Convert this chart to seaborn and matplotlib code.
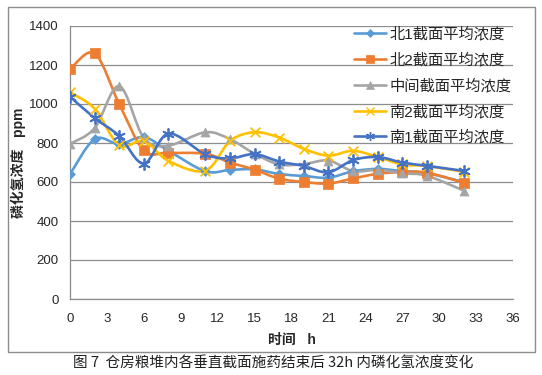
import numpy as np
import pandas as pd
import matplotlib
matplotlib.use("Agg")
import matplotlib.pyplot as plt
from matplotlib.path import Path
from matplotlib.patches import PathPatch, Rectangle
from matplotlib.lines import Line2D
import seaborn as sns

# data
hours = [0, 2, 4, 6, 8, 11, 13, 15, 17, 19, 21, 23, 25, 27, 29, 32]
north1 = [640, 820, 795, 830, 760, 655, 662, 665, 641, 631, 622, 655, 667, 656, 645, 600]
north2 = [1178, 1260, 1000, 762, 750, 745, 700, 663, 617, 600, 592, 618, 642, 651, 648, 596]
middle = [795, 876, 1092, 826, 787, 855, 820, 745, 690, 692, 710, 656, 662, 645, 632, 556]
south2 = [1060, 976, 788, 810, 708, 658, 810, 855, 828, 770, 735, 760, 728, 690, 682, 652]
south1 = [1038, 928, 836, 694, 848, 742, 721, 743, 705, 682, 650, 712, 728, 700, 683, 657]

names = ["北1截面平均浓度", "北2截面平均浓度", "中间截面平均浓度", "南2截面平均浓度", "南1截面平均浓度"]
colors = ["#5B9BD5", "#ED7D31", "#A5A5A5", "#FFC000", "#4472C4"]
markers = ["D", "s", "^", "x", (6, 2, 0)]
msizes = [5, 6.5, 6.5, 7, 8]

xticks = list(range(0, 37, 3))
yticks = list(range(0, 1401, 200))

df = pd.DataFrame({"hours": hours, names[0]: north1, names[1]: north2,
                   names[2]: middle, names[3]: south2, names[4]: south1})

sns.set_style("white")
plt.rcParams["font.family"] = ["Liberation Sans", "Noto Sans CJK SC", "DejaVu Sans"]


def smooth_path(xs, ys):
    # excel-like smoothed line: cubic bezier with catmull-rom control points
    pts = np.column_stack([xs, ys]).astype(float)
    n = len(pts)
    verts = [pts[0]]
    codes = [Path.MOVETO]
    for i in range(n - 1):
        p0 = pts[i - 1] if i > 0 else pts[i]
        p1 = pts[i]
        p2 = pts[i + 1]
        p3 = pts[i + 2] if i + 2 < n else pts[i + 1]
        c1 = p1 + (p2 - p0) / 6.0
        c2 = p2 - (p3 - p1) / 6.0
        verts += [c1, c2, p2]
        codes += [Path.CURVE4] * 3
    return Path(verts, codes)


fig = plt.figure(figsize=(5.42, 3.75), dpi=100)
ax = fig.add_axes([70 / 542, 1 - 299 / 375, 443 / 542, 273 / 375])

# chart border
fig.patches.append(Rectangle((8 / 542, 1 - 352 / 375), 527 / 542, 345 / 375,
                             transform=fig.transFigure, fill=False,
                             edgecolor="#8c8c8c", linewidth=1.0))

handles = []
for name, c, m, ms in zip(names, colors, markers, msizes):
    ax.add_patch(PathPatch(smooth_path(df["hours"], df[name]), fill=False,
                           edgecolor=c, linewidth=1.9, zorder=2,
                           capstyle="round", joinstyle="round"))
    filled = m not in ("x",) and not isinstance(m, tuple)
    if filled:
        sns.scatterplot(data=df, x="hours", y=name, marker=m, color=c,
                        edgecolor=c, s=ms ** 2, linewidth=0.5, ax=ax, zorder=3)
    else:
        sns.scatterplot(data=df, x="hours", y=name, marker=m, color=c,
                        s=ms ** 2, linewidth=1.3, ax=ax, zorder=3)
    handles.append(Line2D([], [], color=c, linewidth=1.9, marker=m,
                          markersize=ms * 0.8, markeredgecolor=c,
                          markeredgewidth=1.0 if not filled else 0.5))

ax.set_xlim(0, 36)
ax.set_ylim(0, 1400)
ax.set_xticks(xticks)
ax.set_yticks(yticks)
ax.grid(axis="y", color="#8c8c8c", linewidth=0.9)
ax.grid(axis="x", visible=False)
for side in ["top", "right"]:
    ax.spines[side].set_visible(False)
for side in ["left", "bottom"]:
    ax.spines[side].set_color("#8c8c8c")
    ax.spines[side].set_linewidth(0.9)
ax.tick_params(axis="both", which="both", direction="out", length=4,
               width=0.9, color="#8c8c8c", labelsize=9.5, labelcolor="#262626")
ax.tick_params(axis="x", pad=6)
ax.tick_params(axis="y", pad=4)

ax.set_xlabel("时间   h", fontsize=10, fontweight="bold", labelpad=6)
ax.set_ylabel("磷化氢浓度   ppm", fontsize=10, fontweight="bold", labelpad=2)

ax.legend(handles=handles, labels=names, loc="upper left",
          bbox_to_anchor=(354 / 542, 1 - 27 / 375), bbox_transform=fig.transFigure,
          frameon=False, fontsize=11, handlelength=2.1, handletextpad=0.2,
          labelspacing=0.72, borderpad=0, borderaxespad=0)

fig.text(273 / 542, 1 - 364 / 375, "图 7  仓房粮堆内各垂直截面施药结束后 32h 内磷化氢浓度变化",
         ha="center", va="center", fontsize=10.5,
         family=["Noto Sans CJK SC", "DejaVu Sans"], color="#222222")

fig.savefig("out.png", dpi=100)
